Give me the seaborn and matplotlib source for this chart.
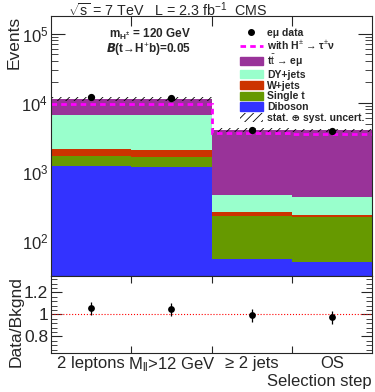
import matplotlib.pyplot as plt
import numpy as np
import pandas as pd
import seaborn as sns
from matplotlib.ticker import MultipleLocator, LogLocator, NullFormatter, FixedLocator
from matplotlib.patches import Patch
from matplotlib.lines import Line2D

# Values
steps = ['2 leptons', r'M$_{\rm ll}$>12 GeV', '≥ 2 jets', 'OS']
processes = ['Diboson', 'Single t', 'W+jets', 'DY+jets', 'ttbar']
diboson = [1220, 1180, 55, 50]
single_t = [490, 470, 175, 170]
wjets = [430, 435, 31, 20]
dyjets = [4570, 4470, 203, 190]
ttbar = [4730, 4750, 3600, 3540]
with_hplus = [9680, 9680, 3640, 3560]
data = [12010, 11810, 4020, 3870]
ratio = [1.055, 1.046, 0.99, 0.975]
ratio_err = [0.06, 0.06, 0.06, 0.06]
syst_frac = [0.07, 0.07, 0.06, 0.06]

colors = {'Diboson': '#3333ff', 'Single t': '#669900', 'W+jets': '#cc3300',
          'DY+jets': '#99ffcc', 'ttbar': '#993399'}

sns.set_style('ticks')
plt.rcParams['font.family'] = ['Liberation Sans', 'DejaVu Sans']
plt.rcParams['mathtext.fontset'] = 'custom'
plt.rcParams['mathtext.rm'] = 'Liberation Sans'
plt.rcParams['mathtext.it'] = 'Liberation Sans:italic'
plt.rcParams['mathtext.bf'] = 'Liberation Sans:bold'
plt.rcParams['hatch.linewidth'] = 0.6

edges = [0, 1, 2, 3, 4]
centers = np.array(edges[:-1]) + 0.5

rows = []
for name, vals in zip(processes, [diboson, single_t, wjets, dyjets, ttbar]):
    for c, v in zip(centers, vals):
        rows.append({'pos': c, 'process': name, 'events': v})
df = pd.DataFrame(rows)

fig = plt.figure(figsize=(3.75, 3.92), dpi=100)
ax = fig.add_axes([0.136, 0.296, 0.856, 0.663])
rax = fig.add_axes([0.136, 0.100, 0.856, 0.196], sharex=ax)

sns.histplot(data=df, x='pos', weights='events', hue='process',
             hue_order=processes[::-1], multiple='stack', bins=edges,
             palette=colors, element='bars', linewidth=0, alpha=1,
             legend=False, ax=ax)
ax.set_yscale('log')

total = np.sum([diboson, single_t, wjets, dyjets, ttbar], axis=0)
ax.bar(centers, 2 * total * np.array(syst_frac), bottom=total * (1 - np.array(syst_frac)),
       width=1, fill=False, hatch='////', linewidth=0, edgecolor='black')
ax.stairs(with_hplus, edges, baseline=None, color='#ff00ff',
          linestyle=(0, (2, 1.5)), linewidth=2)
ax.plot(centers, data, 'o', color='black', ms=4.2)

ax.set_xlim(0, 4)
ax.set_ylim(31, 1.8e5)
ax.set_xlabel('')
ax.set_ylabel('Events', fontsize=12.5, loc='top', labelpad=0)
ax.yaxis.set_major_locator(LogLocator(base=10, numticks=10))
ax.yaxis.set_minor_locator(LogLocator(base=10, subs=np.arange(2, 10), numticks=20))
ax.yaxis.set_minor_formatter(NullFormatter())
ax.tick_params(axis='both', which='both', direction='in', top=True, right=True)
ax.tick_params(axis='y', which='major', length=10, labelsize=12, pad=2)
ax.tick_params(axis='y', which='minor', length=5)
ax.xaxis.set_major_locator(FixedLocator(edges[1:-1]))
ax.tick_params(axis='x', which='major', length=7, labelbottom=False)
ax.tick_params(axis='x', which='minor', length=0)

handles = [
    Line2D([], [], marker='o', color='black', linestyle='none', ms=4),
    Line2D([], [], color='#ff00ff', linestyle=(0, (2, 1.5)), linewidth=2),
    Patch(color=colors['ttbar']), Patch(color=colors['DY+jets']),
    Patch(color=colors['W+jets']), Patch(color=colors['Single t']),
    Patch(color=colors['Diboson']),
    Patch(facecolor='white', hatch='////', edgecolor='black', linewidth=0),
]
labels = ['eμ data', r'with H$^{\pm}$ → τ$^{\pm}$ν', 't$\\bar{\\rm t}$ → eμ', 'DY+jets',
          'W+jets', 'Single t', 'Diboson', 'stat. ⊕ syst. uncert.']
ax.legend(handles, labels, loc='upper right', bbox_to_anchor=(0.99, 0.97),
          frameon=False, prop={'weight': 'bold', 'size': 7.5},
          handlelength=2.2, handleheight=0.85, labelspacing=0.08, handletextpad=0.4,
          borderaxespad=0)

ax.text(0.18, 0.93, r'$\mathbf{m_{H^{\pm}}}$ = 120 GeV', transform=ax.transAxes,
        fontsize=8.5, fontweight='bold', va='center')
ax.text(0.17, 0.87, r'$\mathbfit{B}$(t→H$^{+}$b)=0.05', transform=ax.transAxes,
        fontsize=8.5, fontweight='bold', va='center')
fig.text(68 / 375, 1 - 10 / 392, r'$\sqrt{\rm s}$ = 7 TeV   L = 2.3 fb$^{-1}$  CMS',
         fontsize=10.3, va='center', ha='left')

# ratio panel
sns.scatterplot(x=centers, y=ratio, color='black', s=24, linewidth=0, ax=rax, zorder=3)
rax.errorbar(centers, ratio, yerr=ratio_err, fmt='none', ecolor='black', elinewidth=0.9)
rax.axhline(1, color='red', linestyle=':', linewidth=0.8)
rax.set_ylim(0.65, 1.35)
rax.set_yticks([0.8, 1.0, 1.2], ['0.8', '1', '1.2'])
rax.yaxis.set_minor_locator(MultipleLocator(0.04))
rax.set_xticks(edges[1:-1])
rax.set_xticks(centers, steps, minor=True)
rax.tick_params(axis='both', which='both', direction='in', top=True, right=True)
rax.tick_params(axis='y', which='major', length=8, labelsize=12.5, pad=2)
rax.tick_params(axis='y', which='minor', length=4)
rax.tick_params(axis='x', which='major', length=5, labelbottom=False)
rax.tick_params(axis='x', which='minor', length=0, labelsize=12, pad=2)
rax.set_ylabel('Data/Bkgnd', fontsize=12.5, loc='top', labelpad=0)
rax.set_xlabel('Selection step', fontsize=12, loc='right', labelpad=0)

fig.savefig('out.png', dpi=100)
